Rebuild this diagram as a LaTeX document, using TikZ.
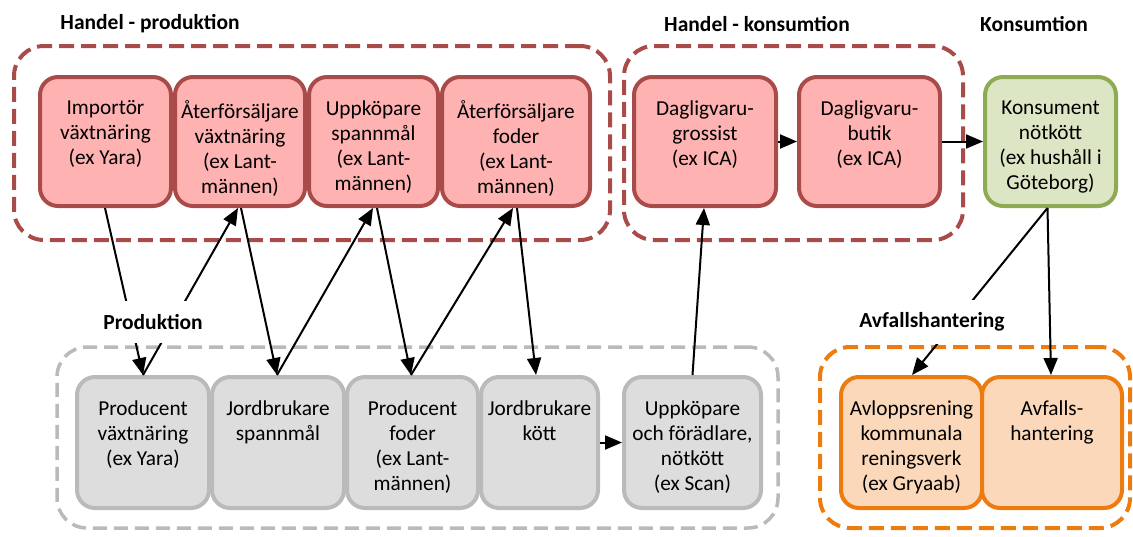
\documentclass[tikz,border=0pt]{standalone}
\usepackage{fontspec}
\setmainfont{Carlito}
\usetikzlibrary{arrows.meta}

\definecolor{redfill}{HTML}{FFB2B2}
\definecolor{redline}{HTML}{A94C49}
\definecolor{greenfill}{HTML}{DCE6C4}
\definecolor{greenline}{HTML}{8EAA52}
\definecolor{grayfill}{HTML}{DDDDDD}
\definecolor{grayline}{HTML}{BABABA}
\definecolor{orangefill}{HTML}{FBD8BA}
\definecolor{orangeline}{HTML}{EC7C10}

\begin{document}
\begin{tikzpicture}[x=1pt,y=-1pt,
  boxbase/.style={draw, line width=4pt, rounded corners=18pt, inner sep=0pt},
  redbox/.style={boxbase, draw=redline, fill=redfill},
  greenbox/.style={boxbase, draw=greenline, fill=greenfill},
  graybox/.style={boxbase, draw=grayline, fill=grayfill},
  orangebox/.style={boxbase, draw=orangeline, fill=orangefill},
  group/.style={draw, line width=4pt, rounded corners=30pt, inner sep=0pt},
  redgroup/.style={group, draw=redline, dash pattern=on 15pt off 7pt},
  graygroup/.style={group, line width=3.5pt, draw=grayline, dash pattern=on 14pt off 7pt},
  orangegroup/.style={group, draw=orangeline, dash pattern=on 15pt off 7pt},
  boxtext/.style={anchor=north, align=center, inner sep=0pt,
    font=\fontsize{21.3}{25}\selectfont, execute at begin node=\strut},
  title/.style={font=\bfseries\fontsize{21.5}{25}\selectfont, inner sep=0pt},
  gaptitle/.style={title, fill=white, inner xsep=4pt, inner ysep=13pt},
  conn/.style={line width=2pt, -{Triangle[length=17pt,width=14pt]}}
]
\useasboundingbox (0,0) rectangle (1133,536);

% dashed group frames
\node[redgroup, minimum width=596pt, minimum height=194pt] (hprod) at (312,143) {};
\node[redgroup, minimum width=339pt, minimum height=194pt] (hkons) at (793.5,143) {};
\node[graygroup, minimum width=721pt, minimum height=181pt] (prod) at (417.5,437.5) {};
\node[orangegroup, minimum width=310pt, minimum height=181pt] (avfall) at (975,437.5) {};

% trade (production side)
\node[redbox, minimum width=131pt, minimum height=129pt] (imp) at (105.5,141.5) {};
\node[redbox, minimum width=130pt, minimum height=129pt] (afv) at (240,141.5) {};
\node[redbox, minimum width=129pt, minimum height=129pt] (ups) at (373.5,141.5) {};
\node[redbox, minimum width=148pt, minimum height=129pt] (aff) at (516,141.5) {};

% trade (consumption side) and consumer
\node[redbox, minimum width=142pt, minimum height=129pt] (dgr) at (705,141.5) {};
\node[redbox, minimum width=141pt, minimum height=129pt] (dbu) at (869.5,141.5) {};
\node[greenbox, minimum width=131pt, minimum height=129pt] (kon) at (1050.5,141.5) {};

% production
\node[graybox, minimum width=132pt, minimum height=131pt] (pv) at (143,442.5) {};
\node[graybox, minimum width=132pt, minimum height=131pt] (js) at (278,442.5) {};
\node[graybox, minimum width=131pt, minimum height=131pt] (pf) at (412.5,442.5) {};
\node[graybox, minimum width=117pt, minimum height=131pt] (jk) at (539.5,442.5) {};
\node[graybox, minimum width=137pt, minimum height=131pt] (uf) at (692.5,442.5) {};

% waste handling
\node[orangebox, minimum width=141pt, minimum height=131pt] (avl) at (911.5,442.5) {};
\node[orangebox, minimum width=140pt, minimum height=131pt] (avf) at (1052,442.5) {};

% box texts
\node[boxtext] (imp-t) at ([yshift=-25.5pt]imp.north) {Importör\\växtnäring\\(ex Yara)};
\node[boxtext] (afv-t) at ([yshift=-25.5pt]afv.north) {Återförsäljare\\växtnäring\\(ex Lant-\\männen)};
\node[boxtext] (ups-t) at ([yshift=-25.5pt]ups.north) {Uppköpare\\spannmål\\(ex Lant-\\männen)};
\node[boxtext] (aff-t) at ([yshift=-25.5pt]aff.north) {Återförsäljare\\foder\\(ex Lant-\\männen)};
\node[boxtext] (dgr-t) at ([yshift=-25.5pt]dgr.north) {Dagligvaru-\\grossist\\(ex ICA)};
\node[boxtext] (dbu-t) at ([yshift=-25.5pt]dbu.north) {Dagligvaru-\\butik\\(ex ICA)};
\node[boxtext] (kon-t) at ([yshift=-25.5pt]kon.north) {Konsument\\nötkött\\(ex hushåll i\\Göteborg)};
\node[boxtext] (pv-t) at ([yshift=-25.5pt]pv.north) {Producent\\växtnäring\\(ex Yara)};
\node[boxtext] (js-t) at ([yshift=-25.5pt]js.north) {Jordbrukare\\spannmål};
\node[boxtext] (pf-t) at ([yshift=-25.5pt]pf.north) {Producent\\foder\\(ex Lant-\\männen)};
\node[boxtext] (jk-t) at ([yshift=-25.5pt]jk.north) {Jordbrukare\\kött};
\node[boxtext] (uf-t) at ([yshift=-25.5pt]uf.north) {Uppköpare\\och förädlare,\\nötkött\\(ex Scan)};
\node[boxtext] (avl-t) at ([yshift=-25.5pt]avl.north) {Avloppsrening\\kommunala\\reningsverk\\(ex Gryaab)};
\node[boxtext] (avf-t) at ([yshift=-25.5pt]avf.north) {Avfalls-\\hantering};

% flows
\draw[conn] ([xshift=-0.5pt]imp.south) -- (pv.north);
\draw[conn] (pv.north) -- ([xshift=-2pt]afv.south);
\draw[conn] ([xshift=1pt]afv.south) -- ([xshift=-1pt]js.north);
\draw[conn] ([xshift=-1pt]js.north) -- ([xshift=-0.5pt]ups.south);
\draw[conn] ([xshift=3.5pt]ups.south) -- ([xshift=-1.5pt]pf.north);
\draw[conn] ([xshift=-1.5pt]pf.north) -- ([xshift=-3pt]aff.south);
\draw[conn] ([xshift=1pt]aff.south) -- ([xshift=-3.5pt]jk.north);
\draw[conn] (uf.north) -- ([xshift=-1pt]dgr.south);
\draw[conn] (dgr.east) -- (dbu.west);
\draw[conn] (dbu.east) -- (kon.west);
\draw[conn] (jk.east) -- (uf.west);
\draw[conn] ([xshift=-3pt]kon.south) -- ([xshift=-1pt]avf.north);
\draw[conn] ([xshift=-3pt]kon.south) -- ([xshift=0.5pt]avl.north);

% group titles
\node[title] (t-hprod) at (150,24) {Handel - produktion};
\node[title] (t-hkons) at (757,24) {Handel - konsumtion};
\node[title] (t-kons) at (1034,24) {Konsumtion};
\node[gaptitle] (t-prod) at (153,322) {Produktion};
\node[gaptitle] (t-avfall) at (932,322) {Avfallshantering};
\end{tikzpicture}
\end{document}
